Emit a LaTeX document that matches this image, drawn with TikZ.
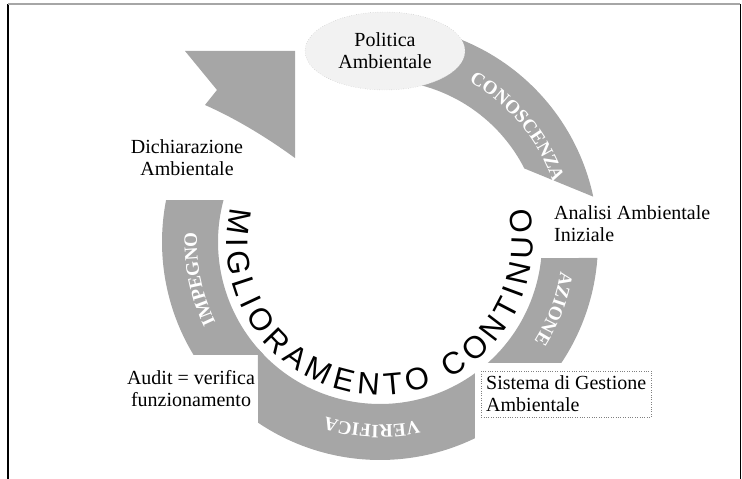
\documentclass[tikz,border=0pt]{standalone}
\usepackage{fontspec}
\setmainfont{Liberation Serif}
\newfontfamily\anellofont{Liberation Sans}
\usetikzlibrary{calc,decorations.text,shapes.geometric}

\newcommand{\fasciafont}{\bfseries\fontsize{19}{19}\selectfont}
\newcommand{\anellotesto}{\anellofont\fontsize{31}{31}\selectfont}

\begin{document}
\begin{tikzpicture}[
    x=1pt, y=1pt,
    every node/.style={font=\fontsize{20}{22}\selectfont},
    fascia/.style={
        fill=gray!70,
        draw=none
    },
    etichetta/.style={
        align=center,
        inner sep=1pt
    },
    bordo/.style={
        line width=2.5pt
    },
    scrittabianca/.style={
        decorate,
        decoration={text along path, text align=center, text color=white, text={|\fasciafont|#1}}
    }
]
\useasboundingbox (0,0) rectangle (742,479);
\coordinate (c) at (380,237);

% Cornice
\draw[bordo] (8,0) -- (8,475);
\draw[bordo, gray!70] (8,475) -- (740,475);
\draw[thick] (740,475) -- (740,0);

% Fasce dell'anello
\fill[fascia] ($(c)+(80:218)$) arc[start angle=80, end angle=12, radius=218]
    -- ($(c)+(27:162)$) arc[start angle=27, end angle=80, radius=162] -- cycle;
\fill[fascia] ($(c)+(-4.2:218)$) arc[start angle=-4.2, end angle=-33.7, radius=218]
    -- ($(c)+(-48.3:162)$) arc[start angle=-48.3, end angle=-5.7, radius=162] -- cycle;
\fill[fascia] ($(c)+(-64.2:218)$) arc[start angle=-64.2, end angle=-124, radius=218]
    -- ($(c)+(-138.9:162)$) arc[start angle=-138.9, end angle=-54.1, radius=162] -- cycle;
\fill[fascia] ($(c)+(168.9:218)$) arc[start angle=168.9, end angle=211.2, radius=218]
    -- ($(c)+(224.2:162)$) arc[start angle=224.2, end angle=165, radius=162] -- cycle;

% Coda in alto a sinistra
\fill[fascia] (185,428) -- (295,428) -- (295,321)
    .. controls (262,345) and (232,362) .. (205,374) -- (217,389) -- cycle;

% Scritte sulle fasce
\path[scrittabianca=CONOSCENZA] ($(c)+(70:183)$) arc[start angle=70, end angle=10, radius=183];
\path[scrittabianca=AZIONE] ($(c)+(10:183)$) arc[start angle=10, end angle=-52, radius=183];
\path[scrittabianca=VERIFICA] ($(c)+(-62.5:183)$) arc[start angle=-62.5, end angle=-122.5, radius=183];
\path[scrittabianca=IMPEGNO] ($(c)+(221.5:183)$) arc[start angle=221.5, end angle=161.5, radius=183];

% Scritta interna
\path[decorate, decoration={text along path, text align=fit to path,
    text={|\anellotesto|MIGLIORAMENTO CONTINUO}}]
    ($(c)+(167:153)$) arc[start angle=167, end angle=373, radius=153];

% Politica
\node[ellipse, fill=gray!10, draw=gray!60, dotted, minimum width=160, minimum height=78, etichetta] (politica) at (385,428) {Politica\\Ambientale};

% Etichette
\node[etichetta] (dichiarazione) at (187,321) {Dichiarazione\\Ambientale};
\node[etichetta, align=left, anchor=west] (analisi) at (553,255) {Analisi Ambientale\\Iniziale};
\node[etichetta, align=left, anchor=west, draw=gray, dotted, inner sep=5pt] (sistema) at (481,85) {Sistema di Gestione\\Ambientale};
\node[etichetta] (audit) at (191,90) {Audit = verifica\\funzionamento};

\end{tikzpicture}
\end{document}
